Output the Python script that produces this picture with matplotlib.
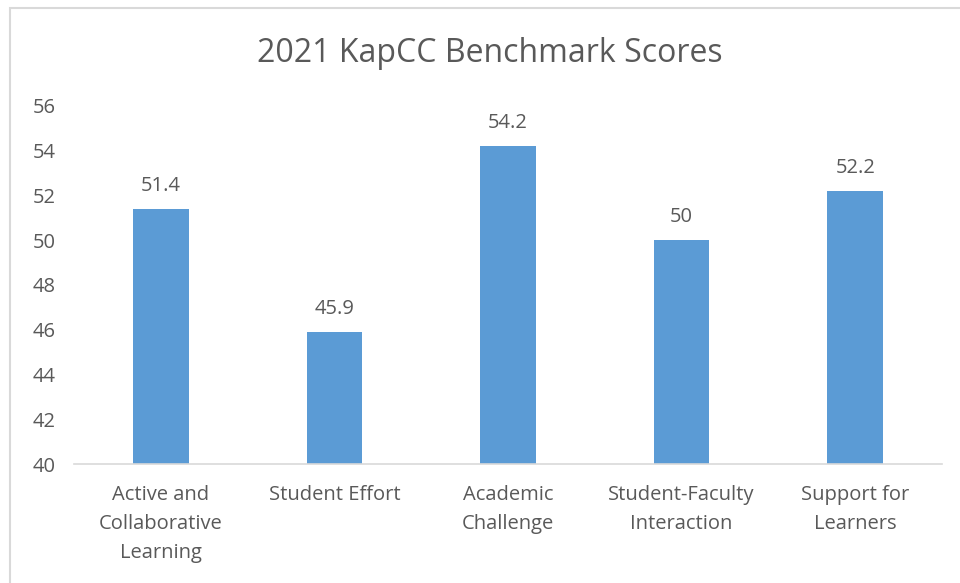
import matplotlib
matplotlib.use('Agg')
import matplotlib.pyplot as plt
from matplotlib.patches import Rectangle

categories = ['Active and\nCollaborative\nLearning', 'Student Effort', 'Academic\nChallenge',
              'Student-Faculty\nInteraction', 'Support for\nLearners']
scores = [51.4, 45.9, 54.2, 50, 52.2]
score_labels = ['51.4', '45.9', '54.2', '50', '52.2']
y_ticks = [40, 42, 44, 46, 48, 50, 52, 54, 56]

W, H = 960, 583
TEXT = '#595959'
plt.rcParams['font.family'] = ['Open Sans', 'DejaVu Sans']

fig = plt.figure(figsize=(W / 100, H / 100), dpi=100)
ax = fig.add_axes([74 / W, 1 - 464 / H, (942 - 74) / W, (464 - 106) / H])

x = list(range(len(categories)))
ax.bar(x, scores, width=0.32, color='#5B9BD5', bottom=0)
for xi, v, lab in zip(x, scores, score_labels):
    ax.annotate(lab, (xi, v), xytext=(0, 16.5), textcoords='offset points',
                ha='center', va='center', fontsize=14.5, color=TEXT)

ax.set_ylim(40, 56)
ax.set_xlim(-0.5, len(categories) - 0.5)
ax.set_yticks(y_ticks)
ax.set_xticks(x)
ax.set_xticklabels(categories, fontsize=14.5, color=TEXT, linespacing=1.62)
ax.tick_params(axis='y', labelsize=14.5, labelcolor=TEXT, length=0, pad=13)
ax.tick_params(axis='x', length=0, pad=15)
for s in ['top', 'right', 'left']:
    ax.spines[s].set_visible(False)
ax.spines['bottom'].set_color('#D9D9D9')
ax.spines['bottom'].set_linewidth(1.2)

fig.text(490 / W, 1 - 53 / H, '2021 KapCC Benchmark Scores', ha='center', va='center',
         fontsize=23, color=TEXT)

fig.patches.append(Rectangle((10 / W, -0.1), 1.2, 1 - 8 / H + 0.1, transform=fig.transFigure,
                             fill=False, edgecolor='#D9D9D9', linewidth=1.5))

fig.savefig('out.png', dpi=100)
